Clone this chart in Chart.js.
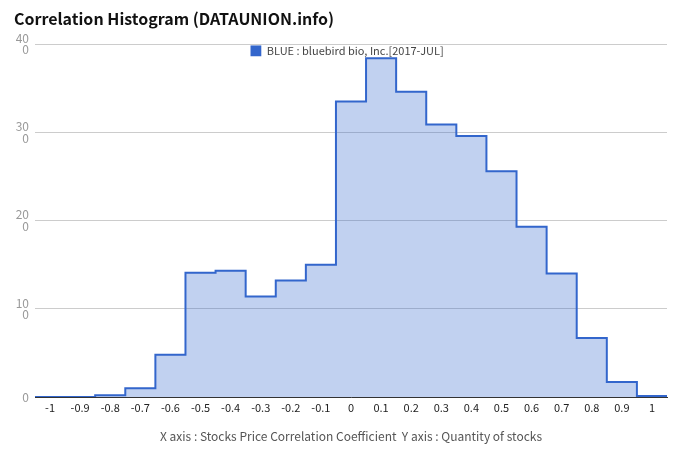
<!DOCTYPE html>
<html lang="en">
<head>
<meta charset="UTF-8">
<title>Correlation Histogram (DATAUNION.info)</title>
<script src="https://cdn.jsdelivr.net/npm/chart.js"></script>
<style>
  body { margin: 0; background: #fff; }
  #wrap { width: 680px; height: 462px; }
</style>
</head>
<body>
<div id="wrap"><canvas id="histChart"></canvas></div>
<script>
// histogram bins (centre of each correlation bin)
const binCenters = [-1, -0.9, -0.8, -0.7, -0.6, -0.5, -0.4, -0.3, -0.2, -0.1, 0,
                    0.1, 0.2, 0.3, 0.4, 0.5, 0.6, 0.7, 0.8, 0.9, 1];
const xTickLabels = ['-1', '-0.9', '-0.8', '-0.7', '-0.6', '-0.5', '-0.4', '-0.3', '-0.2', '-0.1', '0',
                     '0.1', '0.2', '0.3', '0.4', '0.5', '0.6', '0.7', '0.8', '0.9', '1'];
// number of stocks in each bin
const stockCounts = [0, 0, 2, 10, 48, 141, 143, 114, 132, 150, 335,
                     384, 346, 309, 296, 256, 193, 140, 67, 17, 1];
const yTicks = [0, 100, 200, 300, 400];
const binWidth = 0.1;
const seriesLabel = 'BLUE : bluebird bio, Inc.[2017-JUL]';

const lineColor = '#3366cc';
const fontFamily = '"Noto Sans CJK KR", "Noto Sans", sans-serif';

// step line: each bin drawn from its left edge, closed at the last right edge
const stepPoints = binCenters.map((c, i) => ({ x: c - binWidth / 2, y: stockCounts[i] }));
stepPoints.push({ x: binCenters[binCenters.length - 1] + binWidth / 2, y: stockCounts[stockCounts.length - 1] });

// legend sits inside the plot, centred at the top
const centerLegend = {
    id: 'centerLegend',
    afterLayout(chart) {
        const lg = chart.legend, area = chart.chartArea;
        if (!lg) return;
        const w = lg.width, h = lg.height;
        lg.left = (area.left + area.right) / 2 - w / 2 + 1;
        lg.right = lg.left + w;
        lg.top = area.top + 1;
        lg.bottom = lg.top + h;
    }
};

const ctx = document.getElementById('histChart').getContext('2d');
new Chart(ctx, {
    type: 'line',
    data: {
        datasets: [{
            label: seriesLabel,
            data: stepPoints,
            stepped: true,
            borderColor: lineColor,
            borderWidth: 2,
            backgroundColor: 'rgba(51, 102, 204, 0.3)',
            fill: 'origin',
            pointRadius: 0
        }]
    },
    plugins: [centerLegend],
    options: {
        responsive: true,
        maintainAspectRatio: false,
        animation: false,
        layout: { padding: { left: 14, right: 13, top: 0, bottom: 0 } },
        plugins: {
            title: {
                display: true,
                text: 'Correlation Histogram (DATAUNION.info)',
                align: 'start',
                color: '#111',
                font: { family: fontFamily, size: 16, weight: 'bold' },
                padding: { top: 9, bottom: 16 }
            },
            legend: {
                position: 'chartArea',
                align: 'start',
                labels: {
                    boxWidth: 11,
                    boxHeight: 11,
                    padding: 0,
                    color: '#444',
                    font: { family: fontFamily, size: 11 },
                    generateLabels(chart) {
                        const items = Chart.defaults.plugins.legend.labels.generateLabels(chart);
                        items.forEach(it => { it.fillStyle = lineColor; it.lineWidth = 0; });
                        return items;
                    }
                }
            },
            tooltip: { enabled: false }
        },
        scales: {
            x: {
                type: 'linear',
                min: -1.05,
                max: 1.05,
                afterBuildTicks: scale => { scale.ticks = binCenters.map(v => ({ value: v })); },
                afterFit: scale => { scale.height = 65; },
                grid: { display: false, drawTicks: false },
                border: { display: true, color: '#333', width: 1 },
                ticks: {
                    autoSkip: false,
                    maxRotation: 0,
                    padding: 4,
                    color: '#222',
                    font: { family: fontFamily, size: 11 },
                    callback: (value, index) => xTickLabels[index]
                },
                title: {
                    display: true,
                    text: 'X axis : Stocks Price Correlation Coefficient  Y axis : Quantity of stocks',
                    color: '#555',
                    font: { family: fontFamily, size: 12 },
                    padding: { top: 0, bottom: 18 }
                }
            },
            y: {
                min: 0,
                max: 400,
                afterBuildTicks: scale => { scale.ticks = yTicks.map(v => ({ value: v })); },
                afterFit: scale => { scale.width = 21; },
                grid: { color: '#cccccc', drawTicks: false },
                border: { display: false },
                ticks: {
                    padding: 6,
                    color: '#999',
                    font: { family: fontFamily, size: 12, lineHeight: 0.95 },
                    callback: value => {
                        const s = String(value);
                        return s.length > 2 ? [s.slice(0, -1), s.slice(-1)] : s;
                    }
                }
            }
        }
    }
});
</script>
</body>
</html>
